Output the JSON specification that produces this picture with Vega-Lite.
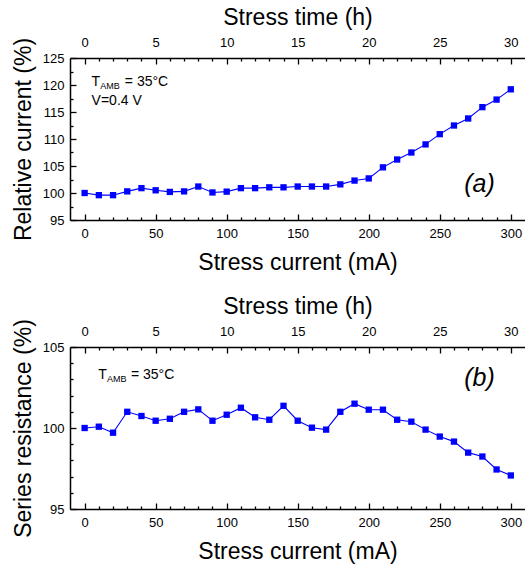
{
  "$schema": "https://vega.github.io/schema/vega-lite/v6.json",
  "background": "white",
  "padding": {"left": 12, "top": 6, "right": 0, "bottom": 0},
  "spacing": 20,
  "config": {
    "view": {"stroke": null, "fill": null},
    "font": "Liberation Sans",
    "axis": {
      "grid": false, "zindex": 1,
      "domainColor": "#000000", "domainWidth": 1.5,
      "tickColor": "#000000", "tickWidth": 1.3, "tickOpacity": 1,
      "labelOverlap": false, "labelFlush": false, "labelBound": false,
      "labelFont": "Liberation Sans", "labelFontSize": 13, "labelColor": "black",
      "titleFont": "Liberation Sans", "titleFontSize": 23, "titleFontWeight": "normal", "titleColor": "black"
    }
  },
  "datasets": {
    "a": [
      {"I": 0, "v": 100.0}, {"I": 10, "v": 99.6}, {"I": 20, "v": 99.6},
      {"I": 30, "v": 100.3}, {"I": 40, "v": 100.9}, {"I": 50, "v": 100.5},
      {"I": 60, "v": 100.2}, {"I": 70, "v": 100.3}, {"I": 80, "v": 101.2},
      {"I": 90, "v": 100.1}, {"I": 100, "v": 100.25}, {"I": 110, "v": 100.9},
      {"I": 120, "v": 100.9}, {"I": 130, "v": 101.05}, {"I": 140, "v": 101.05},
      {"I": 150, "v": 101.2}, {"I": 160, "v": 101.2}, {"I": 170, "v": 101.2},
      {"I": 180, "v": 101.6}, {"I": 190, "v": 102.3}, {"I": 200, "v": 102.7},
      {"I": 210, "v": 104.75}, {"I": 220, "v": 106.2}, {"I": 230, "v": 107.5},
      {"I": 240, "v": 109.0}, {"I": 250, "v": 110.9}, {"I": 260, "v": 112.5},
      {"I": 270, "v": 113.8}, {"I": 280, "v": 115.9}, {"I": 290, "v": 117.3},
      {"I": 300, "v": 119.2}
    ],
    "b": [
      {"I": 0, "v": 100.0}, {"I": 10, "v": 100.08}, {"I": 20, "v": 99.71},
      {"I": 30, "v": 101.0}, {"I": 40, "v": 100.74}, {"I": 50, "v": 100.45},
      {"I": 60, "v": 100.57}, {"I": 70, "v": 101.0}, {"I": 80, "v": 101.15},
      {"I": 90, "v": 100.45}, {"I": 100, "v": 100.82}, {"I": 110, "v": 101.25},
      {"I": 120, "v": 100.66}, {"I": 130, "v": 100.51}, {"I": 140, "v": 101.37},
      {"I": 150, "v": 100.45}, {"I": 160, "v": 100.02}, {"I": 170, "v": 99.9},
      {"I": 180, "v": 101.0}, {"I": 190, "v": 101.5}, {"I": 200, "v": 101.13},
      {"I": 210, "v": 101.13}, {"I": 220, "v": 100.51}, {"I": 230, "v": 100.39},
      {"I": 240, "v": 99.9}, {"I": 250, "v": 99.47}, {"I": 260, "v": 99.16},
      {"I": 270, "v": 98.48}, {"I": 280, "v": 98.24}, {"I": 290, "v": 97.44},
      {"I": 300, "v": 97.07}
    ]
  },
  "vconcat": [
    {
      "width": 455,
      "height": 162,
      "resolve": {"axis": {"x": "independent", "y": "independent"}},
      "layer": [
        {
          "data": {"name": "a"},
          "mark": {"type": "line", "color": "#0000FF", "strokeWidth": 1.1},
          "encoding": {
            "x": {
              "field": "I", "type": "quantitative",
              "scale": {"domain": [-10.3, 310], "nice": false, "zero": false},
              "axis": {
                "orient": "top", "title": "Stress time (h)",
                "values": [0, 50, 100, 150, 200, 250, 300],
                "labelExpr": "format(datum.value / 10, 'd')",
                "domain": false, "tickSize": 6, "offset": -6,
                "labelPadding": 9, "titlePadding": 7
              }
            },
            "y": {
              "field": "v", "type": "quantitative",
              "scale": {"domain": [95, 125], "nice": false, "zero": false},
              "axis": {
                "title": "Relative current (%)",
                "values": [95, 100, 105, 110, 115, 120, 125],
                "format": "d",
                "domain": false, "tickSize": 6, "offset": -6,
                "labelPadding": 6, "titlePadding": 6.5
              }
            }
          }
        },
        {
          "data": {"name": "a"},
          "mark": {"type": "point", "shape": "square", "filled": true, "size": 40, "color": "#0000FF", "opacity": 1},
          "encoding": {
            "x": {
              "field": "I", "type": "quantitative",
              "axis": {
                "orient": "bottom", "title": "Stress current (mA)",
                "values": [0, 50, 100, 150, 200, 250, 300],
                "format": "d",
                "domain": false, "tickSize": 6, "offset": -6,
                "labelPadding": 7, "titlePadding": 11.5
              }
            },
            "y": {
              "field": "v", "type": "quantitative",
              "axis": {
                "orient": "left", "title": null, "labels": false, "domain": false,
                "values": [97.5, 102.5, 107.5, 112.5, 117.5, 122.5],
                "tickSize": 3, "offset": -3
              }
            }
          }
        },
        {
          "data": {"values": [{}]},
          "mark": {"type": "text", "fontSize": 14, "align": "left", "baseline": "alphabetic", "fill": "black", "font": "Liberation Sans"},
          "encoding": {
            "x": {"datum": 4.9, "type": "quantitative",
              "axis": {"orient": "top", "title": null, "labels": false, "domain": false,
                "values": [10,20,30,40,60,70,80,90,110,120,130,140,160,170,180,190,210,220,230,240,260,270,280,290],
                "tickSize": 3, "offset": -3}},
            "y": {"datum": 119.9, "type": "quantitative",
              "axis": {"orient": "left", "title": null, "labels": false, "ticks": false, "domain": true, "offset": 0}},
            "text": {"value": "T"}
          }
        },
        {
          "data": {"values": [{}]},
          "mark": {"type": "text", "fontSize": 9, "align": "left", "baseline": "alphabetic", "fill": "black", "font": "Liberation Sans"},
          "encoding": {
            "x": {"datum": 11, "type": "quantitative",
              "axis": {"orient": "bottom", "title": null, "labels": false, "domain": false,
                "values": [10,20,30,40,60,70,80,90,110,120,130,140,160,170,180,190,210,220,230,240,260,270,280,290],
                "tickSize": 3, "offset": -3}},
            "y": {"datum": 119.26, "type": "quantitative", "axis": null},
            "text": {"value": "AMB"}
          }
        },
        {
          "data": {"values": [{}]},
          "mark": {"type": "text", "fontSize": 14, "align": "left", "baseline": "alphabetic", "fill": "black", "font": "Liberation Sans"},
          "encoding": {
            "x": {"datum": 28.3, "type": "quantitative",
              "axis": {"orient": "top", "title": null, "labels": false, "ticks": false, "domain": true, "offset": 0}},
            "y": {"datum": 119.9, "type": "quantitative", "axis": null},
            "text": {"value": "= 35°C"}
          }
        },
        {
          "data": {"values": [{}]},
          "mark": {"type": "text", "fontSize": 14, "align": "left", "baseline": "alphabetic", "fill": "black", "font": "Liberation Sans"},
          "encoding": {
            "x": {"datum": 4.9, "type": "quantitative",
              "axis": {"orient": "bottom", "title": null, "labels": false, "ticks": false, "domain": true, "offset": 0}},
            "y": {"datum": 116.3, "type": "quantitative", "axis": null},
            "text": {"value": "V=0.4 V"}
          }
        },
        {
          "data": {"values": [{}]},
          "mark": {"type": "text", "fontSize": 25, "fontStyle": "italic", "align": "center", "baseline": "alphabetic", "fill": "black", "font": "Liberation Sans"},
          "encoding": {
            "x": {"datum": 278, "type": "quantitative", "axis": null},
            "y": {"datum": 100.1, "type": "quantitative", "axis": null},
            "text": {"value": "(a)"}
          }
        }
      ]
    },
    {
      "width": 455,
      "height": 162,
      "resolve": {"axis": {"x": "independent", "y": "independent"}},
      "layer": [
        {
          "data": {"name": "b"},
          "mark": {"type": "line", "color": "#0000FF", "strokeWidth": 1.1},
          "encoding": {
            "x": {
              "field": "I", "type": "quantitative",
              "scale": {"domain": [-10.3, 310], "nice": false, "zero": false},
              "axis": {
                "orient": "top", "title": "Stress time (h)",
                "values": [0, 50, 100, 150, 200, 250, 300],
                "labelExpr": "format(datum.value / 10, 'd')",
                "domain": false, "tickSize": 6, "offset": -6,
                "labelPadding": 9, "titlePadding": 7
              }
            },
            "y": {
              "field": "v", "type": "quantitative",
              "scale": {"domain": [95, 105], "nice": false, "zero": false},
              "axis": {
                "title": "Series resistance (%)",
                "values": [95, 100, 105],
                "format": "d",
                "domain": false, "tickSize": 6, "offset": -6,
                "labelPadding": 6, "titlePadding": 6.5
              }
            }
          }
        },
        {
          "data": {"name": "b"},
          "mark": {"type": "point", "shape": "square", "filled": true, "size": 40, "color": "#0000FF", "opacity": 1},
          "encoding": {
            "x": {
              "field": "I", "type": "quantitative",
              "axis": {
                "orient": "bottom", "title": "Stress current (mA)",
                "values": [0, 50, 100, 150, 200, 250, 300],
                "format": "d",
                "domain": false, "tickSize": 6, "offset": -6,
                "labelPadding": 7, "titlePadding": 11.5
              }
            },
            "y": {
              "field": "v", "type": "quantitative",
              "axis": {
                "orient": "left", "title": null, "labels": false, "domain": false,
                "values": [96, 97, 98, 99, 101, 102, 103, 104],
                "tickSize": 3, "offset": -3
              }
            }
          }
        },
        {
          "data": {"values": [{}]},
          "mark": {"type": "text", "fontSize": 14, "align": "left", "baseline": "alphabetic", "fill": "black", "font": "Liberation Sans"},
          "encoding": {
            "x": {"datum": 9.6, "type": "quantitative",
              "axis": {"orient": "top", "title": null, "labels": false, "domain": false,
                "values": [10,20,30,40,60,70,80,90,110,120,130,140,160,170,180,190,210,220,230,240,260,270,280,290],
                "tickSize": 3, "offset": -3}},
            "y": {"datum": 103.0, "type": "quantitative",
              "axis": {"orient": "left", "title": null, "labels": false, "ticks": false, "domain": true, "offset": 0}},
            "text": {"value": "T"}
          }
        },
        {
          "data": {"values": [{}]},
          "mark": {"type": "text", "fontSize": 9, "align": "left", "baseline": "alphabetic", "fill": "black", "font": "Liberation Sans"},
          "encoding": {
            "x": {"datum": 15.7, "type": "quantitative",
              "axis": {"orient": "bottom", "title": null, "labels": false, "domain": false,
                "values": [10,20,30,40,60,70,80,90,110,120,130,140,160,170,180,190,210,220,230,240,260,270,280,290],
                "tickSize": 3, "offset": -3}},
            "y": {"datum": 102.81, "type": "quantitative", "axis": null},
            "text": {"value": "AMB"}
          }
        },
        {
          "data": {"values": [{}]},
          "mark": {"type": "text", "fontSize": 14, "align": "left", "baseline": "alphabetic", "fill": "black", "font": "Liberation Sans"},
          "encoding": {
            "x": {"datum": 32.6, "type": "quantitative",
              "axis": {"orient": "top", "title": null, "labels": false, "ticks": false, "domain": true, "offset": 0}},
            "y": {"datum": 103.0, "type": "quantitative", "axis": null},
            "text": {"value": "= 35°C"}
          }
        },
        {
          "data": {"values": [{}]},
          "mark": {"type": "text", "fontSize": 25, "fontStyle": "italic", "align": "center", "baseline": "alphabetic", "fill": "black", "font": "Liberation Sans"},
          "encoding": {
            "x": {"datum": 278, "type": "quantitative",
              "axis": {"orient": "bottom", "title": null, "labels": false, "ticks": false, "domain": true, "offset": 0}},
            "y": {"datum": 102.6, "type": "quantitative", "axis": null},
            "text": {"value": "(b)"}
          }
        }
      ]
    }
  ]
}
